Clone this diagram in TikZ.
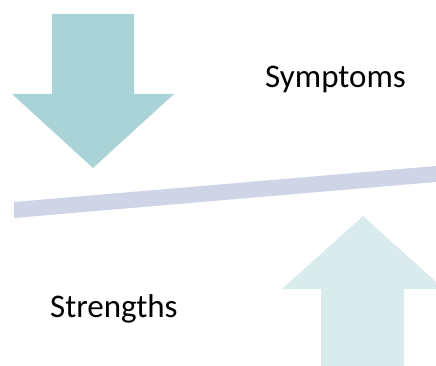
\documentclass[tikz,border=0pt]{standalone}
\usepackage{fontspec}
\setmainfont{Carlito}
\definecolor{downc}{HTML}{A9D3D7}
\definecolor{upc}{HTML}{DAEBEE}
\definecolor{barc}{HTML}{CFD5E7}
\begin{document}
\begin{tikzpicture}[x=1pt,y=-1pt,
  lbl/.style={font=\fontsize{33}{40}\selectfont, inner sep=0pt, anchor=base west, text=black}]
\useasboundingbox (0,0) rectangle (436,366);
% down arrow
\fill[downc] (52,14) -- (134,14) -- (134,94) -- (174,94) -- (93,168) -- (12,94) -- (52,94) -- cycle;
% beam
\fill[barc] (14,202) -- (436,166) -- (436,182) -- (14,218) -- cycle;
% up arrow
\fill[upc] (321,366) -- (321,289) -- (282,289) -- (363,216) -- (444,289) -- (404,289) -- (404,366) -- cycle;
\node[lbl] (symptoms) at (265,88) {Symptoms};
\node[lbl] (strengths) at (50,317) {Strengths};
\end{tikzpicture}
\end{document}
